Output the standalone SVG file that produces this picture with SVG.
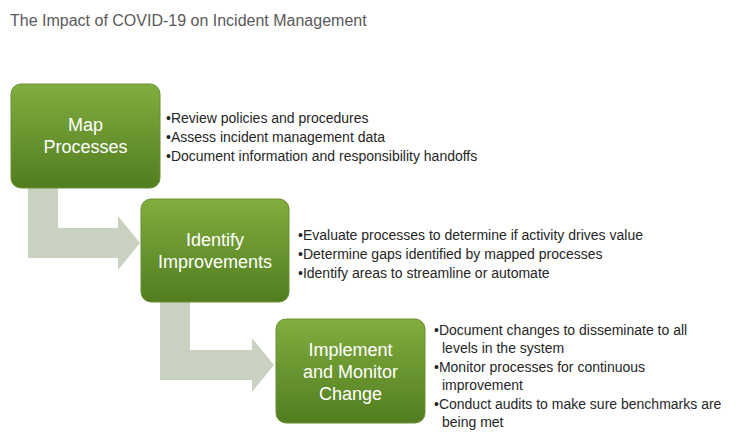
<svg xmlns="http://www.w3.org/2000/svg" width="750" height="448" viewBox="0 0 750 448">
<style>
.box{fill:url(#g);stroke:#6a8f34;stroke-width:1}
.bt{font-family:"Liberation Sans",Arial,sans-serif;font-size:18px;fill:#fff;text-anchor:middle}
.bl{font-family:"Liberation Sans",Arial,sans-serif;font-size:14px;fill:#262626}
.arr{fill:#c9d1c1}
</style>
<defs>
<linearGradient id="g" x1="0" y1="0" x2="0" y2="1">
<stop offset="0" stop-color="#82ad3f"/><stop offset="1" stop-color="#517d20"/>
</linearGradient>
</defs>
<rect width="750" height="448" fill="#fff"/>
<text x="10" y="26" font-family="'Liberation Sans',Arial,sans-serif" font-size="16" fill="#595959">The Impact of COVID-19 on Incident Management</text>
<g id="connectors">
<path class="arr" d="M28,188 H58 V228 H118 V216 L140,243 L118,270 V258 H28 Z"/>
<path class="arr" d="M160,302 H190 V350 H252 V338 L274,365 L252,392 V380 H160 Z"/>
</g>
<g id="n1">
<rect class="box" x="11" y="84" width="149" height="104" rx="10"/>
<text class="bt" x="85.5" y="131">Map</text><text class="bt" x="85.5" y="153">Processes</text>
<text class="bl" x="166" y="123">•Review policies and procedures</text>
<text class="bl" x="166" y="142">•Assess incident management data</text>
<text class="bl" x="166" y="161">•Document information and responsibility handoffs</text>
</g>
<g id="n2">
<rect class="box" x="141" y="199" width="148" height="103" rx="10"/>
<text class="bt" x="215" y="246">Identify</text><text class="bt" x="215" y="268">Improvements</text>
<text class="bl" x="298" y="240">•Evaluate processes to determine if activity drives value</text>
<text class="bl" x="298" y="259">•Determine gaps identified by mapped processes</text>
<text class="bl" x="298" y="278">•Identify areas to streamline or automate</text>
</g>
<g id="n3">
<rect class="box" x="276" y="319" width="149" height="104" rx="10"/>
<text class="bt" x="350.5" y="356">Implement</text><text class="bt" x="350.5" y="378">and Monitor</text><text class="bt" x="350.5" y="400">Change</text>
<text class="bl" x="434" y="335">•Document changes to disseminate to all</text>
<text class="bl" x="442" y="353">levels in the system</text>
<text class="bl" x="434" y="372">•Monitor processes for continuous</text>
<text class="bl" x="442" y="390">improvement</text>
<text class="bl" x="434" y="409">•Conduct audits to make sure benchmarks are</text>
<text class="bl" x="442" y="427">being met</text>
</g>
</svg>
